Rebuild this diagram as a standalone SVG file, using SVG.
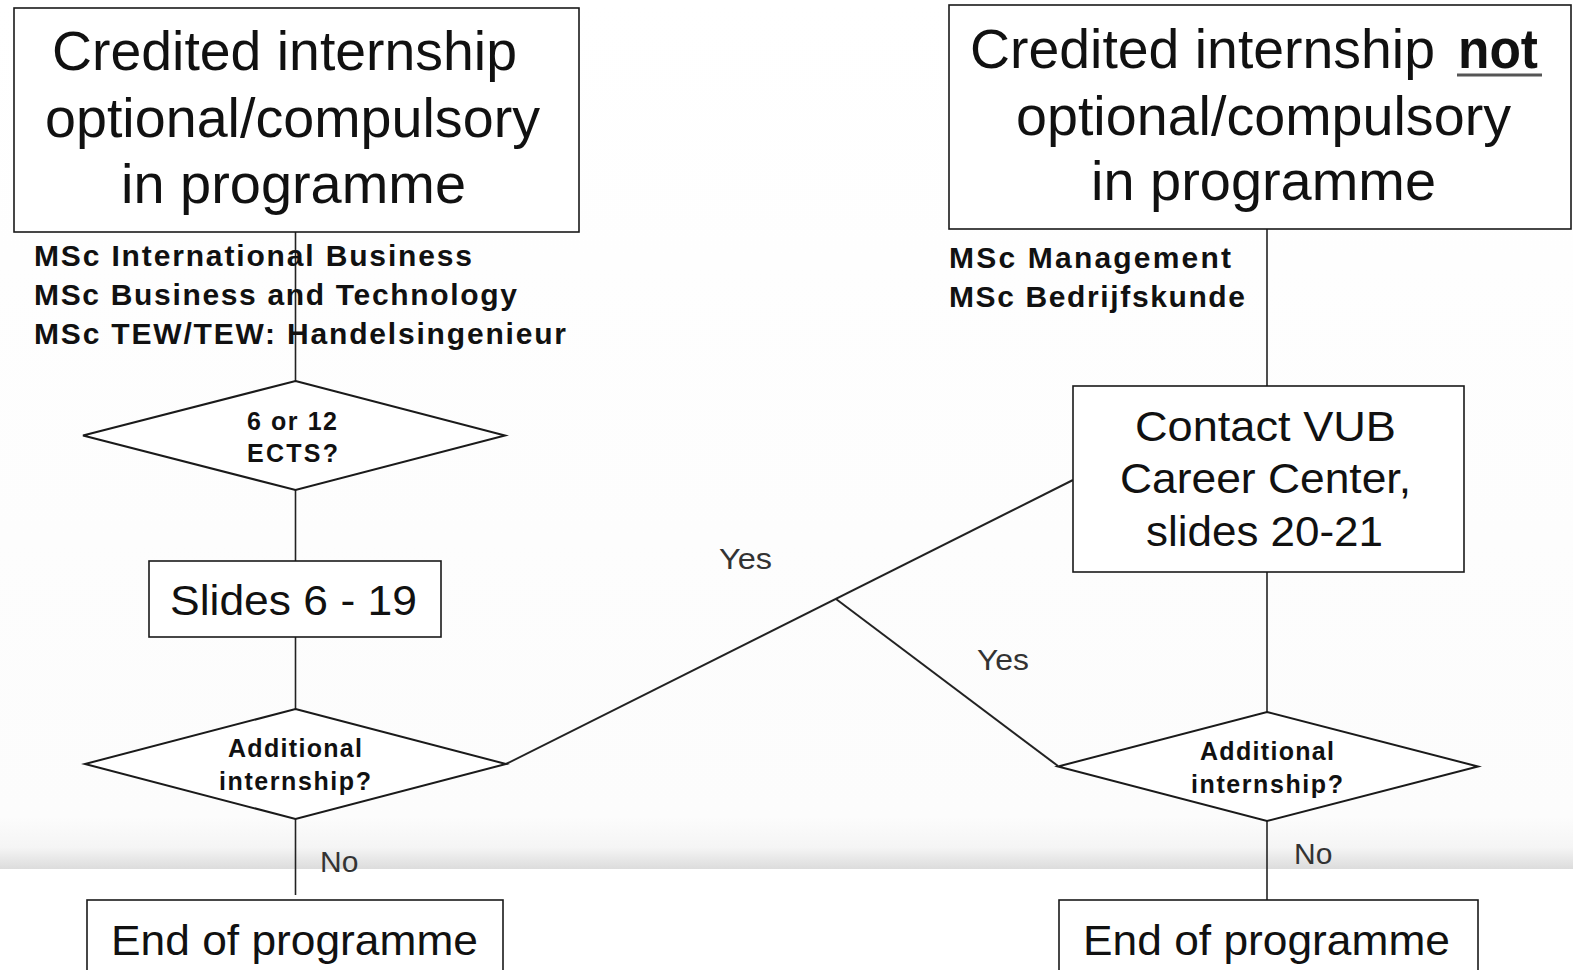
<svg xmlns="http://www.w3.org/2000/svg" width="1573" height="970" viewBox="0 0 1573 970">
<defs>
<linearGradient id="bg" x1="0" y1="0" x2="0" y2="1">
<stop offset="0" stop-color="#ffffff"/>
<stop offset="0.3" stop-color="#fefefe"/>
<stop offset="0.94" stop-color="#fcfcfc"/>
<stop offset="0.975" stop-color="#f5f5f5"/>
<stop offset="1" stop-color="#dcdcdc"/>
</linearGradient>
<style>
.box{fill:#ffffff;stroke:#1a1a1a;stroke-width:1.6}
.dia{fill:#ffffff;stroke:#1a1a1a;stroke-width:2}
.ln{fill:none;stroke:#222;stroke-width:2}
.vl{fill:none;stroke:#222;stroke-width:1.6}
.big{font-family:"Liberation Sans",Arial,sans-serif;font-size:55px;fill:#111}
.mid{font-family:"Liberation Sans",Arial,sans-serif;font-size:42px;fill:#111}
.lbl{font-family:"Liberation Sans",Arial,sans-serif;font-size:30px;font-weight:bold;fill:#111}
.q{font-family:"Liberation Sans",Arial,sans-serif;font-size:25px;font-weight:bold;fill:#111}
.yn{font-family:"Liberation Sans",Arial,sans-serif;font-size:30px;fill:#333}
</style>
</defs>
<rect x="0" y="0" width="1573" height="970" fill="#ffffff"/>
<rect x="0" y="0" width="1573" height="869" fill="url(#bg)"/>

<g id="connectors">
<line class="vl" x1="295.5" y1="232" x2="295.5" y2="382"/>
<line class="vl" x1="295.5" y1="490" x2="295.5" y2="561"/>
<line class="vl" x1="295.5" y1="637" x2="295.5" y2="709"/>
<line class="vl" x1="295.5" y1="819" x2="295.5" y2="895"/>
<line class="vl" x1="1267" y1="229" x2="1267" y2="386"/>
<line class="vl" x1="1267" y1="572" x2="1267" y2="712"/>
<line class="vl" x1="1267" y1="821" x2="1267" y2="900"/>
<polyline class="ln" points="506,764 1073,480"/>
<polyline class="ln" points="836,599 1058,766"/>
<text class="yn" x="719" y="569" textLength="53" lengthAdjust="spacingAndGlyphs">Yes</text>
<text class="yn" x="977" y="670" textLength="52" lengthAdjust="spacingAndGlyphs">Yes</text>
<text class="yn" x="320" y="872">No</text>
<text class="yn" x="1294" y="864">No</text>
</g>

<g id="node-credited-left">
<rect class="box" x="14" y="8" width="565" height="224"/>
<text class="big" x="52" y="70" textLength="465" lengthAdjust="spacingAndGlyphs">Credited internship</text>
<text class="big" x="45" y="137" textLength="495" lengthAdjust="spacingAndGlyphs">optional/compulsory</text>
<text class="big" x="121" y="203" textLength="345" lengthAdjust="spacingAndGlyphs">in programme</text>
</g>

<g id="labels-left">
<text class="lbl" x="34" y="266" textLength="438" lengthAdjust="spacing">MSc International Business</text>
<text class="lbl" x="34" y="305" textLength="483" lengthAdjust="spacing">MSc Business and Technology</text>
<text class="lbl" x="34" y="344" textLength="532" lengthAdjust="spacing">MSc TEW/TEW: Handelsingenieur</text>
</g>

<g id="node-credited-right">
<rect class="box" x="949" y="5" width="622" height="224"/>
<text class="big" x="970" y="68" textLength="465" lengthAdjust="spacingAndGlyphs">Credited internship</text>
<text class="big" x="1458" y="68" font-weight="bold" textLength="80" lengthAdjust="spacingAndGlyphs">not</text>
<line x1="1457" y1="75" x2="1542" y2="75" stroke="#555" stroke-width="3"/>
<text class="big" x="1016" y="135" textLength="495" lengthAdjust="spacingAndGlyphs">optional/compulsory</text>
<text class="big" x="1091" y="200" textLength="345" lengthAdjust="spacingAndGlyphs">in programme</text>
</g>

<g id="labels-right">
<text class="lbl" x="949" y="268" textLength="282" lengthAdjust="spacing">MSc Management</text>
<text class="lbl" x="949" y="307" textLength="296" lengthAdjust="spacing">MSc Bedrijfskunde</text>
</g>

<g id="node-ects">
<polygon class="dia" points="295.5,381 505,435.5 295.5,490 83,435.5"/>
<text class="q" x="247" y="430" textLength="90" lengthAdjust="spacing">6 or 12</text>
<text class="q" x="247" y="462" textLength="91" lengthAdjust="spacing">ECTS?</text>
</g>

<g id="node-slides">
<rect class="box" x="149" y="561" width="292" height="76"/>
<text class="mid" x="170" y="615" textLength="247" lengthAdjust="spacingAndGlyphs">Slides 6 - 19</text>
</g>

<g id="node-additional-left">
<polygon class="dia" points="295.5,709 506,764 295.5,819 85,764"/>
<text class="q" x="228" y="757" textLength="134" lengthAdjust="spacing">Additional</text>
<text class="q" x="219" y="790" textLength="152" lengthAdjust="spacing">internship?</text>
</g>

<g id="node-end-left">
<rect class="box" x="87" y="900" width="416" height="90"/>
<text class="mid" x="111" y="955" textLength="367" lengthAdjust="spacingAndGlyphs">End of programme</text>
</g>

<g id="node-contact">
<rect class="box" x="1073" y="386" width="391" height="186"/>
<text class="mid" x="1135" y="441" textLength="261" lengthAdjust="spacingAndGlyphs">Contact VUB</text>
<text class="mid" x="1120" y="493" textLength="291" lengthAdjust="spacingAndGlyphs">Career Center,</text>
<text class="mid" x="1146" y="546" textLength="237" lengthAdjust="spacingAndGlyphs">slides 20-21</text>
</g>

<g id="node-additional-right">
<polygon class="dia" points="1267,712 1478,766.5 1267,821 1058,766.5"/>
<text class="q" x="1200" y="760" textLength="134" lengthAdjust="spacing">Additional</text>
<text class="q" x="1191" y="793" textLength="152" lengthAdjust="spacing">internship?</text>
</g>

<g id="node-end-right">
<rect class="box" x="1059" y="900" width="419" height="90"/>
<text class="mid" x="1083" y="955" textLength="367" lengthAdjust="spacingAndGlyphs">End of programme</text>
</g>
</svg>
